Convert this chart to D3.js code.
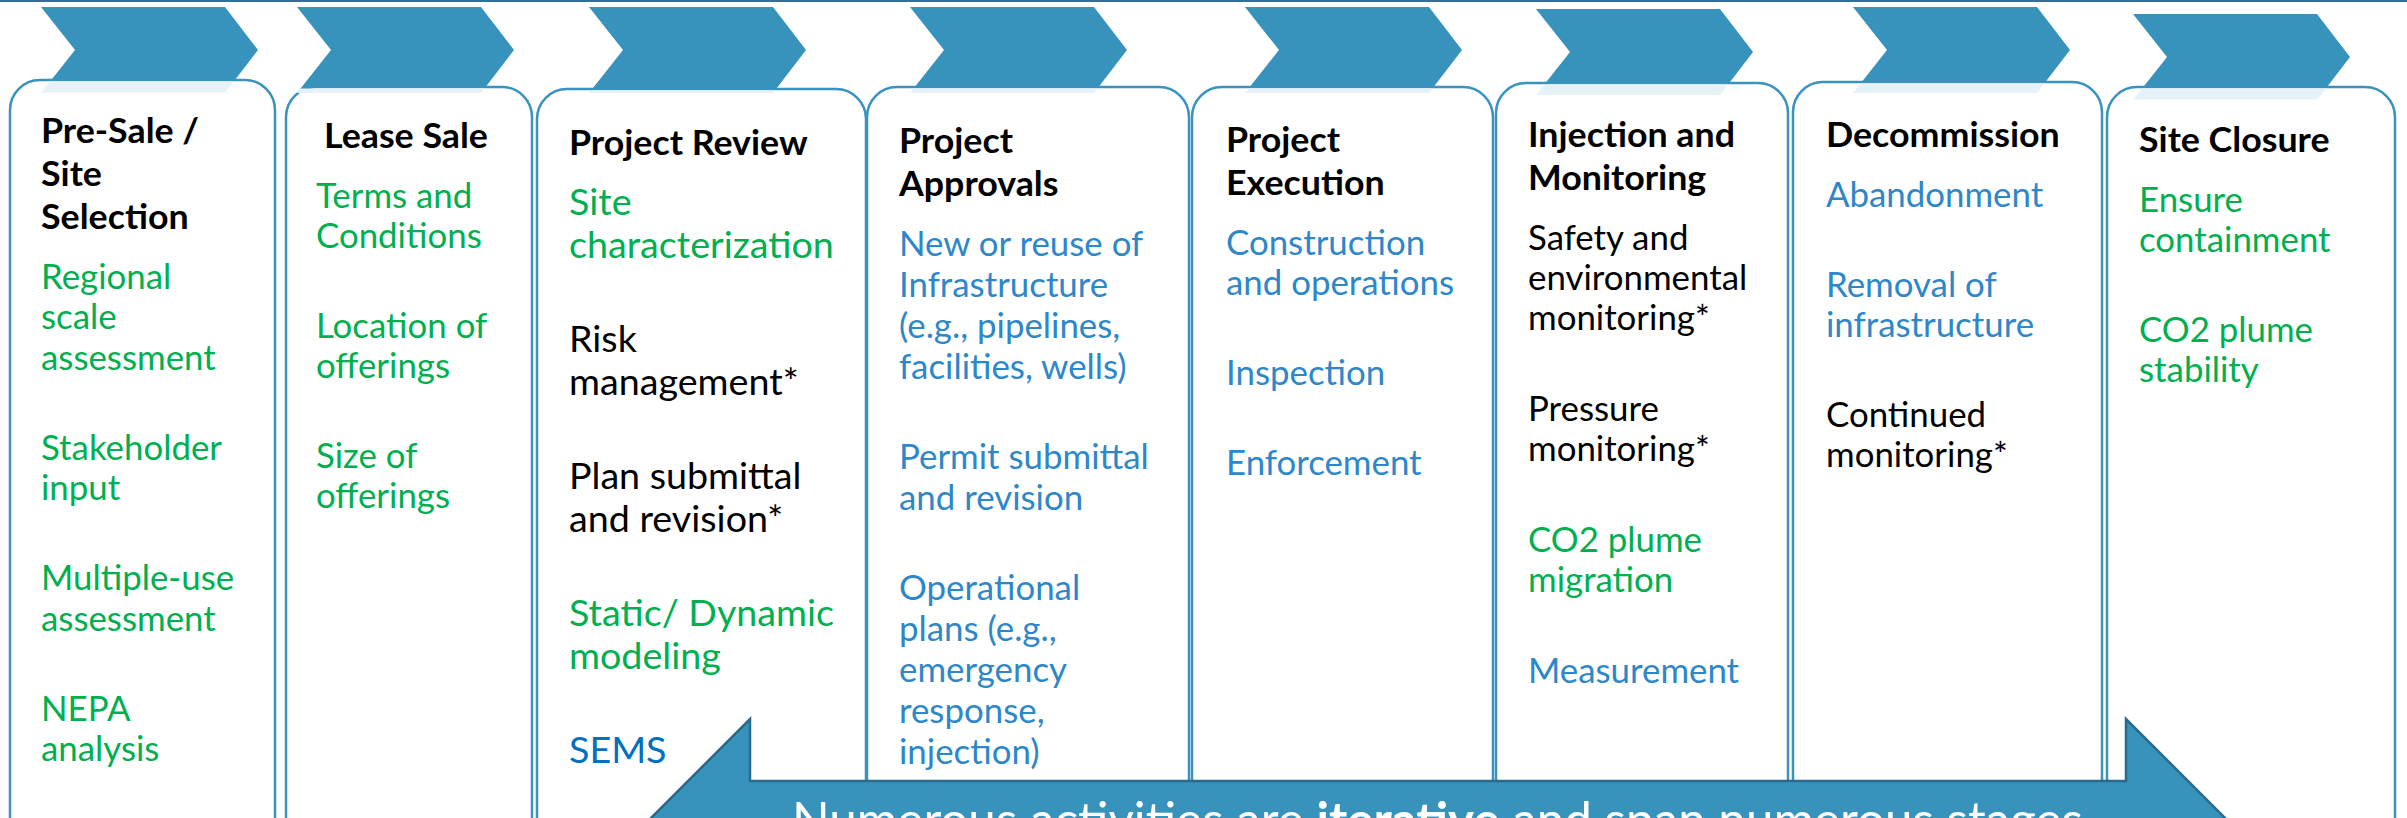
<!DOCTYPE html>
<html>
<head>
<meta charset="utf-8">
<script src="https://cdn.jsdelivr.net/npm/d3@7"></script>
<style>
  html, body { margin: 0; padding: 0; background: #fff; }
  svg { display: block; }
</style>
</head>
<body>
<svg id="chart"></svg>
<script>
// stage titles, one entry per column
const stageTitles = [
    ["Pre-Sale /", "Site", "Selection"],
    ["Lease Sale"],
    ["Project Review"],
    ["Project", "Approvals"],
    ["Project", "Execution"],
    ["Injection and", "Monitoring"],
    ["Decommission"],
    ["Site Closure"]
];

// activities for each stage (tone: g green, b blue, d dark blue, k black)
const stageItems = [
    [{tone: "g", lines: ["Regional", "scale", "assessment"]},
     {tone: "g", lines: ["Stakeholder", "input"]},
     {tone: "g", lines: ["Multiple-use", "assessment"]},
     {tone: "g", lines: ["NEPA", "analysis"]}],
    [{tone: "g", lines: ["Terms and", "Conditions"]},
     {tone: "g", lines: ["Location of", "offerings"]},
     {tone: "g", lines: ["Size of", "offerings"]}],
    [{tone: "g", lines: ["Site", "characterization"]},
     {tone: "k", lines: ["Risk", "management*"]},
     {tone: "k", lines: ["Plan submittal", "and revision*"]},
     {tone: "g", lines: ["Static/ Dynamic", "modeling"]},
     {tone: "d", lines: ["SEMS"]}],
    [{tone: "b", lines: ["New or reuse of", "Infrastructure", "(e.g., pipelines,", "facilities, wells)"]},
     {tone: "b", lines: ["Permit submittal", "and revision"]},
     {tone: "b", lines: ["Operational", "plans (e.g.,", "emergency", "response,", "injection)"]}],
    [{tone: "b", lines: ["Construction", "and operations"]},
     {tone: "b", lines: ["Inspection"]},
     {tone: "b", lines: ["Enforcement"]}],
    [{tone: "k", lines: ["Safety and", "environmental", "monitoring*"]},
     {tone: "k", lines: ["Pressure", "monitoring*"]},
     {tone: "g", lines: ["CO2 plume", "migration"]},
     {tone: "b", lines: ["Measurement"]}],
    [{tone: "b", lines: ["Abandonment"]},
     {tone: "b", lines: ["Removal of", "infrastructure"]},
     {tone: "k", lines: ["Continued", "monitoring*"]}],
    [{tone: "g", lines: ["Ensure", "containment"]},
     {tone: "g", lines: ["CO2 plume", "stability"]}]
];

const bannerParts = [
    {text: "Numerous activities are ", bold: false},
    {text: "iterative", bold: true},
    {text: " and span numerous stages", bold: false}
];

const toneColors = {g: "#00b050", b: "#2d87c9", d: "#0070c0", k: "#000000"};

// ---- layout (pixels) ----
const W = 2407, H = 818;
const boxLeft  = [10, 286, 537, 867, 1192, 1496, 1793, 2107];
const boxRight = [275, 532, 866, 1189, 1493, 1788, 2102, 2395];
const boxTop   = [80, 87, 89, 87, 87, 83, 82, 87];
const chevX    = [41, 297, 589, 910, 1245, 1536, 1853, 2133];
const chevY    = [7, 7, 7, 7, 7, 9, 7, 14];
const textX    = [41, 316, 569, 899, 1226, 1528, 1826, 2139];
const titleDx  = [0, 8, 0, 0, 0, 0, 0, 0];
const titleY   = [143, 148, 155, 153, 152, 147, 147, 152];
const lineStep = [40.5, 40, 43, 41, 40, 40, 40, 40];
const paraStep = [90, 90, 94, 90, 90, 91, 90, 90];
const itemSize = [37, 37, 40, 37, 37, 37, 37, 37];   // Calibri-equivalent px
const titleSize = 38;
const fontRatio = 0.92;   // Lato x-height vs Calibri

const FONT = "Lato, 'Open Sans', sans-serif";
const BLUE = "#3793bb";
const BORDER = "#3a93bf";

const svg = d3.select("#chart").attr("width", W).attr("height", H);
const defs = svg.append("defs");

svg.append("rect").attr("x", 0).attr("y", 0).attr("width", W).attr("height", 2).attr("fill", "#2f6f98");

// measure width scale so Lato matches the original Calibri widths
const probe = svg.append("text").attr("font-family", FONT).attr("font-size", 37 * fontRatio).text("infrastructure");
let sx = 208 / probe.node().getComputedTextLength();
if (!isFinite(sx) || sx < 0.7 || sx > 1.3) sx = 1;
probe.remove();

const stages = d3.range(stageTitles.length).map(function(i) {
    return {i: i, titles: stageTitles[i], items: stageItems[i]};
});

function chevronPath(x, y) {
    let p = d3.path();
    p.moveTo(x, y);
    p.lineTo(x + 184, y);
    p.lineTo(x + 217, y + 43);
    p.lineTo(x + 184, y + 86);
    p.lineTo(x, y + 86);
    p.lineTo(x + 34, y + 43);
    p.closePath();
    return p.toString();
}

// chevrons
svg.append("g").selectAll("path")
    .data(stages)
    .enter()
    .append("path")
    .attr("d", function(d) { return chevronPath(chevX[d.i], chevY[d.i]); })
    .attr("fill", BLUE);

// boxes
svg.append("g").selectAll("rect")
    .data(stages)
    .enter()
    .append("rect")
    .attr("x", function(d) { return boxLeft[d.i]; })
    .attr("y", function(d) { return boxTop[d.i]; })
    .attr("width", function(d) { return boxRight[d.i] - boxLeft[d.i]; })
    .attr("height", function(d) { return H + 60 - boxTop[d.i]; })
    .attr("rx", 30)
    .attr("fill", "#fff")
    .attr("stroke", BORDER)
    .attr("stroke-width", 2.5);

// faint reflection of each chevron just under the box top
stages.forEach(function(d) {
    defs.append("clipPath").attr("id", "band" + d.i)
        .append("rect")
        .attr("x", 0).attr("width", W)
        .attr("y", boxTop[d.i] + 1.5).attr("height", 11);
});
svg.append("g").selectAll("path")
    .data(stages)
    .enter()
    .append("path")
    .attr("d", function(d) { return chevronPath(chevX[d.i], chevY[d.i]); })
    .attr("clip-path", function(d) { return "url(#band" + d.i + ")"; })
    .attr("fill", "#e7f1f8");

// column texts
const cols = svg.append("g").selectAll("g")
    .data(stages)
    .enter()
    .append("g")
    .attr("transform", function(d) { return "translate(" + textX[d.i] + ",0) scale(" + sx + ",1)"; })
    .attr("font-family", FONT);

cols.each(function(d) {
    let g = d3.select(this);
    let y = titleY[d.i];
    d.titles.forEach(function(t, k) {
        g.append("text")
            .attr("x", titleDx[d.i] / sx)
            .attr("y", y)
            .attr("font-size", titleSize * fontRatio)
            .attr("font-weight", "bold")
            .attr("fill", "#000")
            .text(t);
        if (k < d.titles.length - 1) y += 43;
    });
    y += 60;
    d.items.forEach(function(item, j) {
        if (j > 0) y += paraStep[d.i];
        item.lines.forEach(function(line, k) {
            if (k > 0) y += lineStep[d.i];
            g.append("text")
                .attr("x", 0)
                .attr("y", y)
                .attr("font-size", itemSize[d.i] * fontRatio)
                .attr("fill", toneColors[item.tone])
                .text(line);
        });
    });
});

// double-headed arrow across the bottom
const arrowLeft = 750, arrowRight = 2126, headTop = 719, bodyTop = 781, bodyBottom = 891;
const mid = (bodyTop + bodyBottom) / 2, head = mid - headTop;
const arrowPts = [
    [arrowLeft - head, mid], [arrowLeft, headTop], [arrowLeft, bodyTop], [arrowRight, bodyTop],
    [arrowRight, headTop], [arrowRight + head, mid], [arrowRight, mid + head], [arrowRight, bodyBottom],
    [arrowLeft, bodyBottom], [arrowLeft, mid + head]
];
svg.append("path")
    .attr("d", d3.line()(arrowPts) + "Z")
    .attr("fill", BLUE)
    .attr("stroke", "#2a6a8c")
    .attr("stroke-width", 2.5)
    .attr("stroke-linejoin", "miter");

const banner = svg.append("text")
    .attr("x", 792)
    .attr("font-family", FONT)
    .attr("font-size", 44)
    .attr("fill", "#fff");
banner.selectAll("tspan")
    .data(bannerParts)
    .enter()
    .append("tspan")
    .attr("font-weight", function(d) { return d.bold ? "bold" : "normal"; })
    .style("white-space", "pre")
    .text(function(d) { return d.text; });
banner.attr("xml:space", "preserve");
let bw = banner.node().getComputedTextLength();
let fs = 44 * 1291 / bw;
if (!isFinite(fs) || fs < 30 || fs > 70) fs = 44;
banner.attr("font-size", fs).attr("y", 802 + 0.72 * fs);
</script>
</body>
</html>
